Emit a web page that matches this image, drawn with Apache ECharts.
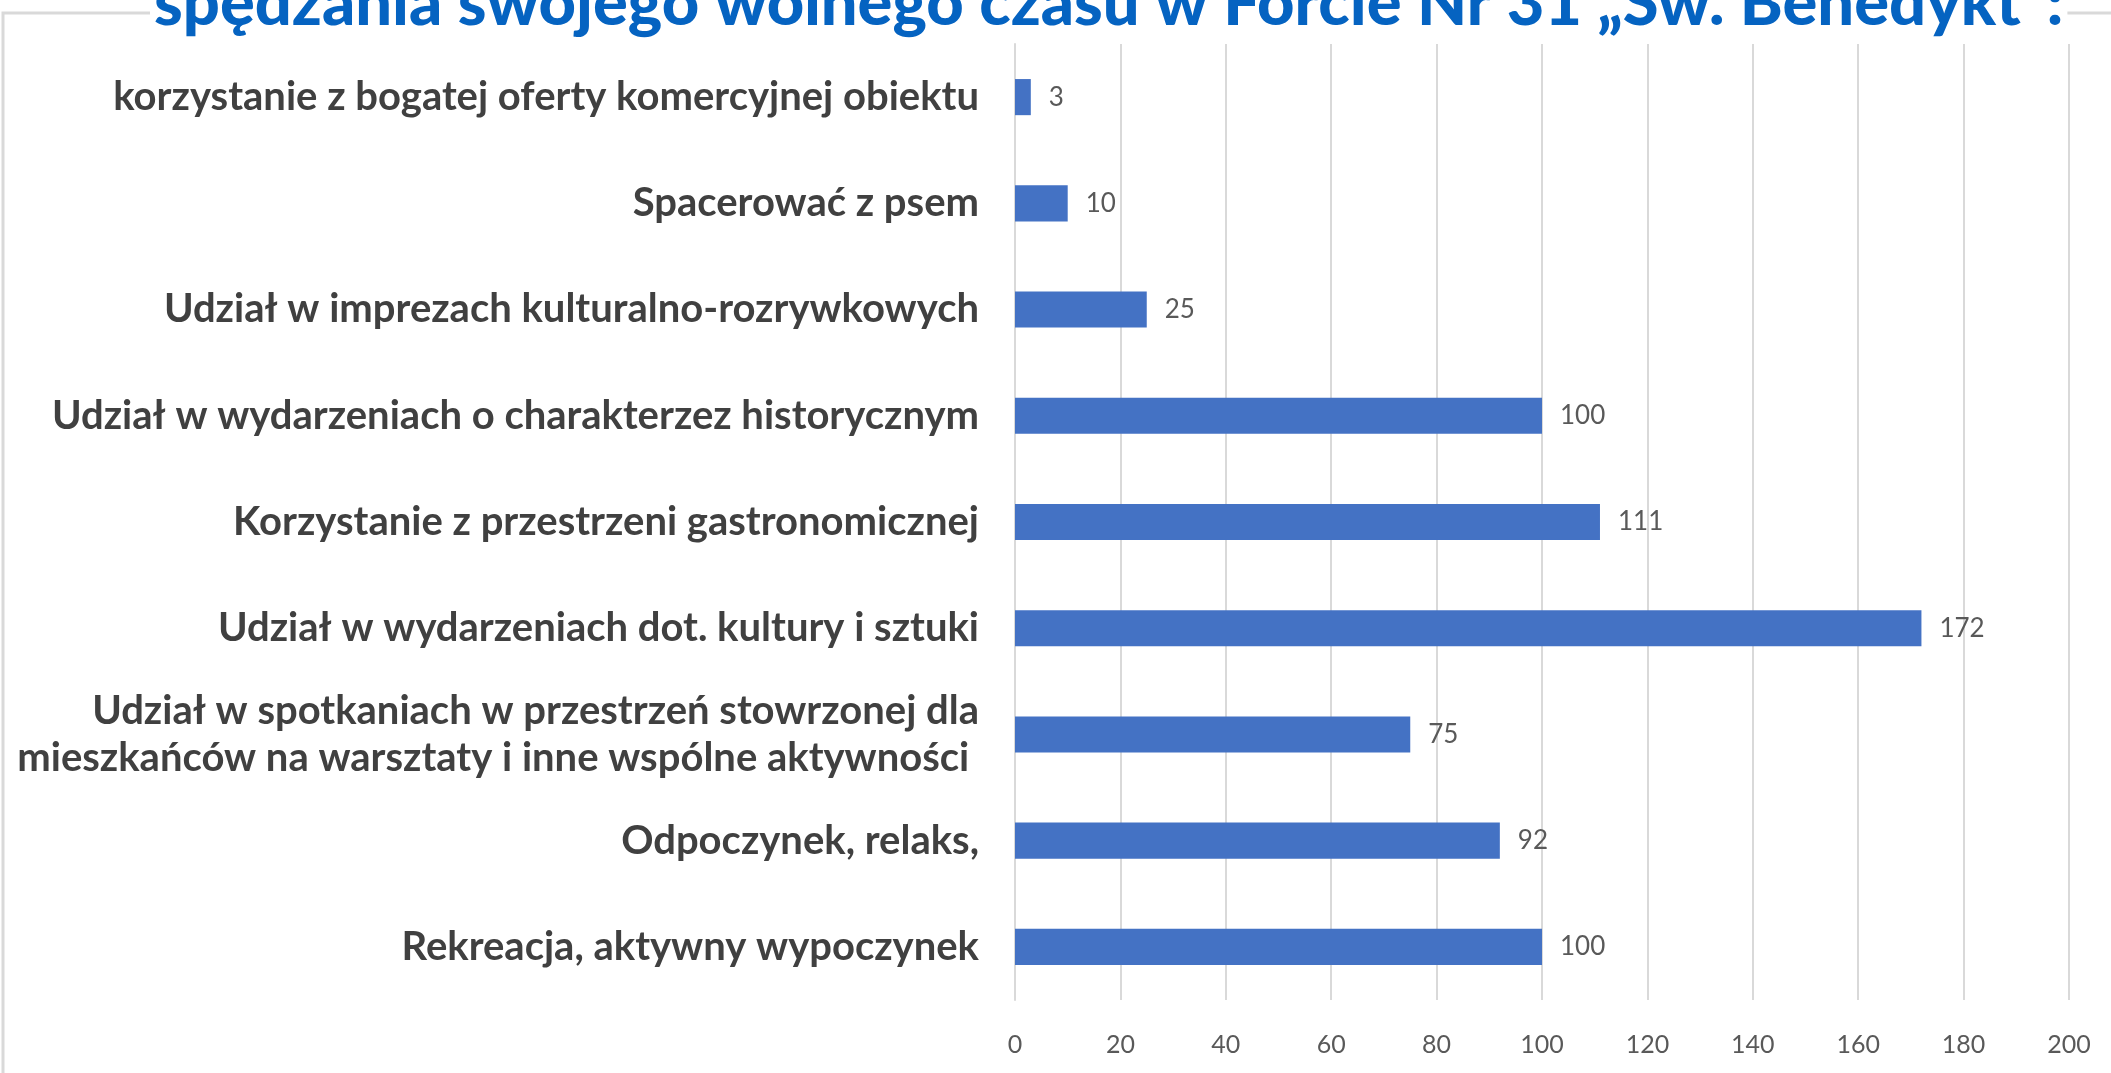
<!DOCTYPE html>
<html><head><meta charset="utf-8">
<script src="https://cdn.jsdelivr.net/npm/echarts@6/dist/echarts.min.js"></script>
<style>html,body{margin:0;padding:0;background:#fff}#c{width:2111px;height:1073px}</style>
</head><body><div id="c"></div>
<script>
const titleText = 'spędzania swojego wolnego czasu w Forcie Nr 31 „Św. Benedykt”:';
// bottom to top
const categories = [
  'Rekreacja, aktywny wypoczynek',
  'Odpoczynek, relaks,',
  'Udział w spotkaniach w przestrzeń stowrzonej dla\nmieszkańców na warsztaty i inne wspólne aktywności ',
  'Udział w wydarzeniach dot. kultury i sztuki',
  'Korzystanie z przestrzeni gastronomicznej',
  'Udział w wydarzeniach o charakterzez historycznym',
  'Udział w imprezach kulturalno-rozrywkowych',
  'Spacerować z psem',
  'korzystanie z bogatej oferty komercyjnej obiektu'
];
const values = [100, 92, 75, 172, 111, 100, 25, 10, 3];
const xTicks = {min: 0, max: 200, interval: 20};

const chart = echarts.init(document.getElementById('c'));
chart.setOption({
  backgroundColor: '#fff',
  animation: false,
  graphic: [{
    type: 'rect', z: 0,
    shape: {x: 3, y: 13, width: 2200, height: 1200},
    style: {fill: 'none', stroke: '#d9d9d9', lineWidth: 3}
  }],
  title: {
    text: titleText,
    left: 150,
    top: -28,
    padding: [0, 4, 0, 4],
    backgroundColor: '#fff',
    textStyle: {fontFamily: 'Lato', fontWeight: 900, fontSize: 65, color: '#0563C1'}
  },
  grid: {left: 1015, right: 42, top: 44, bottom: 73, containLabel: false},
  xAxis: {
    type: 'value', min: xTicks.min, max: xTicks.max, interval: xTicks.interval,
    axisLine: {show: false}, axisTick: {show: false},
    splitLine: {lineStyle: {color: '#d9d9d9', width: 2}},
    axisLabel: {color: '#595959', fontFamily: 'Lato', fontSize: 25, margin: 32}
  },
  yAxis: {
    type: 'category', data: categories,
    axisLine: {show: true, lineStyle: {color: '#d9d9d9', width: 2}},
    axisTick: {show: false},
    axisLabel: {color: '#404040', fontFamily: 'Lato', fontWeight: 'bold', fontSize: 40, margin: 36, lineHeight: 47, align: 'right'}
  },
  series: [{
    type: 'bar', data: values, barWidth: '34%',
    itemStyle: {color: '#4472C4'},
    label: {show: true, position: 'right', distance: 18, color: '#595959', fontFamily: 'Lato', fontSize: 26}
  }]
});
</script></body></html>
